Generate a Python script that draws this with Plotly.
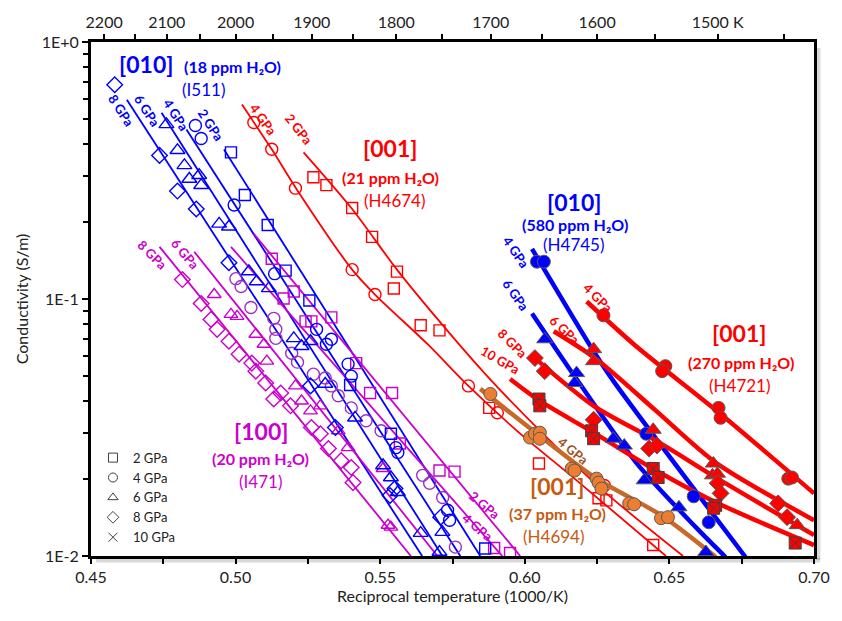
import plotly.graph_objects as go

# ------------------------------------------------------------------ data
# [010] 18 ppm H2O (I511) - open blue symbols, thin fits
i511_2gpa_x = [0.4984, 0.5032, 0.5111, 0.5173, 0.5255, 0.5396, 0.5537, 0.5863]
i511_2gpa_y = [0.372, 0.254, 0.194, 0.129, 0.0987, 0.0463, 0.0299, 0.0107]
i511_4gpa_x = [0.4861, 0.4881, 0.4995, 0.5135, 0.5280, 0.5314, 0.5331, 0.5389, 0.5400, 0.5554, 0.5561, 0.5733, 0.5740]
i511_4gpa_y = [0.473, 0.421, 0.232, 0.1255, 0.0762, 0.0667, 0.0697, 0.0558, 0.0501, 0.0264, 0.0253, 0.01507, 0.01378]
i511_6gpa_x = [0.4761, 0.4799, 0.4823, 0.4840, 0.4874, 0.4881, 0.4943, 0.4977, 0.5046, 0.5073, 0.5115, 0.5201,
               0.5228, 0.5259, 0.5310, 0.5413, 0.5510, 0.5537, 0.5561, 0.5640, 0.5705, 0.5715]
i511_6gpa_y = [0.478, 0.379, 0.331, 0.293, 0.303, 0.277, 0.196, 0.191, 0.128, 0.117, 0.110, 0.0703,
               0.0655, 0.0685, 0.0467, 0.0345, 0.0225, 0.0202, 0.0177, 0.01227, 0.01036, 0.01239]
i511_8gpa_x = [0.4582, 0.4737, 0.4799, 0.4864, 0.4977, 0.5259, 0.5345, 0.5534, 0.5551, 0.5709]
i511_8gpa_y = [0.682, 0.362, 0.263, 0.224, 0.1384, 0.0459, 0.0316, 0.0172, 0.0183, 0.01416]
i511_fit_2_x, i511_fit_2_y = [0.4960, 0.5846], [0.382, 0.0100]
i511_fit_4_x, i511_fit_4_y = [0.4830, 0.5777], [0.457, 0.0100]
i511_fit_6_x, i511_fit_6_y = [0.4744, 0.5715], [0.531, 0.0100]
i511_fit_8_x, i511_fit_8_y = [0.4624, 0.5645], [0.596, 0.0100]

# [100] 20 ppm H2O (I471) - open magenta symbols
i471_2gpa_x = [0.5125, 0.5166, 0.5201, 0.5242, 0.5262, 0.5331, 0.5417, 0.5465, 0.5541, 0.5568, 0.5705, 0.5757, 0.5894, 0.5949]
i471_2gpa_y = [0.1435, 0.1005, 0.1069, 0.0818, 0.0818, 0.0848, 0.0563, 0.0431, 0.0431, 0.0274, 0.0215, 0.0213, 0.01074, 0.01027]
i471_4gpa_x = [0.5001, 0.5019, 0.5053, 0.5132, 0.5139, 0.5139, 0.5194, 0.5214, 0.5269, 0.5310, 0.5331, 0.5355,
               0.5400, 0.5451, 0.5503, 0.5647, 0.5671, 0.5716, 0.5760]
i471_4gpa_y = [0.1200, 0.1118, 0.0927, 0.0841, 0.0762, 0.0703, 0.0615, 0.0568, 0.0510, 0.0493, 0.0459, 0.0420,
               0.0377, 0.0336, 0.0307, 0.0206, 0.0192, 0.0169, 0.01083]
i471_6gpa_x = [0.4926, 0.4984, 0.5005, 0.5070, 0.5098, 0.5108, 0.5207, 0.5228, 0.5259, 0.5293, 0.5355, 0.5389, 0.5510, 0.5527, 0.5537]
i471_6gpa_y = [0.1041, 0.0871, 0.0856, 0.0729, 0.0667, 0.0573, 0.0459, 0.0401, 0.0367, 0.0384, 0.0307, 0.0264, 0.0219, 0.01318, 0.01295]
i471_8gpa_x = [0.4816, 0.4881, 0.4915, 0.4936, 0.4977, 0.5012, 0.5056, 0.5070, 0.5104, 0.5132, 0.5156, 0.5190,
               0.5262, 0.5293, 0.5321, 0.5365, 0.5400, 0.5406]
i471_8gpa_y = [0.1190, 0.0961, 0.0833, 0.0762, 0.0685, 0.0610, 0.0563, 0.0524, 0.0471, 0.0408, 0.0431, 0.0384,
               0.0316, 0.0299, 0.0262, 0.0235, 0.0221, 0.0193]
i471_fit_2_x, i471_fit_2_y = [0.5063, 0.5984], [0.1792, 0.0100]
i471_fit_4_x, i471_fit_4_y = [0.4984, 0.5922], [0.1596, 0.0100]
i471_fit_6_x, i471_fit_6_y = [0.4857, 0.5698], [0.1527, 0.0100]
i471_fit_8_x, i471_fit_8_y = [0.4737, 0.5606], [0.1596, 0.0100]

# [001] 21 ppm H2O (H4674) - open red symbols
h4674_2gpa_x = [0.5269, 0.5314, 0.5403, 0.5472, 0.5558, 0.5547, 0.5640, 0.5705, 0.5877, 0.6049, 0.6255, 0.6282, 0.6444]
h4674_2gpa_y = [0.2978, 0.2773, 0.2259, 0.1745, 0.1278, 0.1098, 0.0790, 0.0755, 0.0377, 0.0229, 0.01677, 0.01646, 0.01103]
h4674_4gpa_x = [0.5063, 0.5125, 0.5207, 0.5403, 0.5482, 0.5805, 0.5905, 0.6275]
h4674_4gpa_y = [0.486, 0.3823, 0.270, 0.1301, 0.1041, 0.0459, 0.0361, 0.0188]
h4674_fit_2_x = [0.5235, 0.5403, 0.5558, 0.5705, 0.5870, 0.6059, 0.6282, 0.6547]
h4674_fit_2_y = [0.3721, 0.2239, 0.1301, 0.0818, 0.0501, 0.0302, 0.01753, 0.0100]
h4674_fit_4_x = [0.5022, 0.5125, 0.5211, 0.5403, 0.5482, 0.5664, 0.5805, 0.5973, 0.6179, 0.6488]
h4674_fit_4_y = [0.5706, 0.3823, 0.2676, 0.1301, 0.1041, 0.0667, 0.0459, 0.0307, 0.0197, 0.0100]

# [001] 37 ppm H2O (H4694) - filled orange circles, 4 GPa
h4694_4gpa_x = [0.5881, 0.6018, 0.6035, 0.6052, 0.6052, 0.6162, 0.6172, 0.6248, 0.6255, 0.6265, 0.6361, 0.6378, 0.6471, 0.6495]
h4694_4gpa_y = [0.0427, 0.0289, 0.0299, 0.0302, 0.0286, 0.0219, 0.0215, 0.0200, 0.0193, 0.0183, 0.01603, 0.01589, 0.01403, 0.01416]
h4694_fit_x = [0.5846, 0.6042, 0.6248, 0.6471, 0.6660]
h4694_fit_y = [0.0447, 0.0299, 0.0200, 0.01441, 0.00991]

# [010] 580 ppm H2O (H4745) - filled blue symbols
h4745_4gpa_x = [0.6042, 0.6066, 0.6420, 0.6584, 0.6636]
h4745_4gpa_y = [0.1397, 0.1397, 0.0299, 0.01707, 0.01353]
h4745_6gpa_x = [0.6069, 0.6179, 0.6172, 0.6306, 0.6344, 0.6413, 0.6533, 0.6626]
h4745_6gpa_y = [0.0697, 0.0515, 0.0471, 0.0286, 0.0269, 0.0197, 0.01547, 0.01036]
h4745_fit_4_x = [0.6025, 0.6238, 0.6306, 0.6763]
h4745_fit_4_y = [0.1568, 0.0626, 0.0480, 0.00991]
h4745_fit_6_x = [0.6025, 0.6179, 0.6385, 0.6591, 0.6694]
h4745_fit_6_y = [0.0879, 0.0488, 0.0231, 0.01295, 0.00991]

# [001] 270 ppm H2O (H4721) - filled red symbols
h4721_4gpa_x = [0.6272, 0.6486, 0.6475, 0.6670, 0.6677, 0.6911, 0.6924]
h4721_4gpa_y = [0.0864, 0.0548, 0.0524, 0.0377, 0.0345, 0.0200, 0.0202]
h4721_6gpa_x = [0.6238, 0.6238, 0.6444, 0.6652, 0.6649, 0.6666, 0.6942]
h4721_6gpa_y = [0.0638, 0.0573, 0.0310, 0.0229, 0.0206, 0.0209, 0.01318]
h4721_8gpa_x = [0.6035, 0.6069, 0.6238, 0.6430, 0.6457, 0.6667, 0.6677, 0.6876, 0.6907]
h4721_8gpa_y = [0.0589, 0.0524, 0.0339, 0.0262, 0.0269, 0.0192, 0.01753, 0.01603, 0.01416]
h4721_10gpa_x = [0.6049, 0.6052, 0.6231, 0.6238, 0.6444, 0.6461, 0.6660, 0.6653, 0.6935]
h4721_10gpa_y = [0.0408, 0.0384, 0.0307, 0.0286, 0.0219, 0.0202, 0.01575, 0.01534, 0.01123]
h4721_fit_4_x = [0.6214, 0.6385, 0.6677, 0.7000]
h4721_fit_4_y = [0.0978, 0.0655, 0.0357, 0.01753]
h4721_fit_6_x = [0.6100, 0.6248, 0.6454, 0.6660, 0.7000]
h4721_fit_6_y = [0.0749, 0.0583, 0.0367, 0.0231, 0.01378]
h4721_fit_8_x = [0.6035, 0.6238, 0.6454, 0.6667, 0.7000]
h4721_fit_8_y = [0.0589, 0.0384, 0.0281, 0.0200, 0.01206]
h4721_fit_10_x = [0.5949, 0.6052, 0.6238, 0.6454, 0.6660, 0.7000]
h4721_fit_10_y = [0.0488, 0.0401, 0.0302, 0.0215, 0.01618, 0.01103]

# axes
x_ticks = [0.45, 0.50, 0.55, 0.60, 0.65, 0.70]
x_ticktext = ["0.45", "0.50", "0.55", "0.60", "0.65", "0.70"]
y_ticks = [1.0, 0.1, 0.01]
y_ticktext = ["1E+0", "1E-1", "1E-2"]
top_temps = [2200, 2100, 2000, 1900, 1800, 1700, 1600, 1500]
top_labels = ["2200", "2100", "2000", "1900", "1800", "1700", "1600", "1500 K"]
top_minor_temps = [2150, 2050, 1950, 1850, 1750, 1650, 1550, 1450]
legend_names = ["2 GPa", "4 GPa", "6 GPa", "8 GPa", "10 GPa"]
legend_symbols = ["square-open", "circle-open", "triangle-up-open", "diamond-open", "x-thin-open"]

# ------------------------------------------------------------------ style
BLUE = "#0000FF"
RED = "#FF0000"
MAG = "#CC00CC"
PURP = "#9B30C8"
ORL = "#C8692A"
ORF = "#ED7D31"
ORT = "#C55A11"
EDGE = "#595959"
FONT = "Lato, Open Sans, sans-serif"

L, R, T, B = 91, 23, 39, 65
W, H = 842, 621
PW, PH = W - L - R, H - T - B

fig = go.Figure()


def fit(x, y, color, width, spline=False):
    fig.add_trace(go.Scatter(x=x, y=y, mode="lines", showlegend=False, hoverinfo="skip",
                             line=dict(color=color, width=width, shape="spline" if spline else "linear",
                                       smoothing=0.8)))


def pts(x, y, symbol, color, size=11, filled=False, edge=None):
    if filled:
        m = dict(symbol=symbol, size=size, color=color, line=dict(color=edge or EDGE, width=1))
    else:
        m = dict(symbol=symbol + "-open", size=size, color=color, line=dict(color=color, width=1.4))
    fig.add_trace(go.Scatter(x=x, y=y, mode="markers", showlegend=False, marker=m))


# thin fits
for fx, fy in [(i511_fit_2_x, i511_fit_2_y), (i511_fit_4_x, i511_fit_4_y),
               (i511_fit_6_x, i511_fit_6_y), (i511_fit_8_x, i511_fit_8_y)]:
    fit(fx, fy, BLUE, 1.8)
for fx, fy in [(i471_fit_2_x, i471_fit_2_y), (i471_fit_4_x, i471_fit_4_y),
               (i471_fit_6_x, i471_fit_6_y), (i471_fit_8_x, i471_fit_8_y)]:
    fit(fx, fy, MAG, 1.8)
fit(h4674_fit_2_x, h4674_fit_2_y, RED, 1.8, True)
fit(h4674_fit_4_x, h4674_fit_4_y, RED, 1.8, True)

# open markers
pts(i471_8gpa_x, i471_8gpa_y, "diamond", MAG, 12)
pts(i471_6gpa_x, i471_6gpa_y, "triangle-up", MAG, 12)
pts(i471_4gpa_x, i471_4gpa_y, "circle", PURP, 12)
pts(i471_2gpa_x, i471_2gpa_y, "square", MAG, 11)
pts(i511_8gpa_x, i511_8gpa_y, "diamond", BLUE, 12)
pts(i511_6gpa_x, i511_6gpa_y, "triangle-up", BLUE, 13)
pts(i511_4gpa_x, i511_4gpa_y, "circle", BLUE, 12)
pts(i511_2gpa_x, i511_2gpa_y, "square", BLUE, 11)
pts(h4674_4gpa_x, h4674_4gpa_y, "circle", RED, 12)
pts(h4674_2gpa_x, h4674_2gpa_y, "square", RED, 11)

# thick fits
fit(h4694_fit_x, h4694_fit_y, ORL, 4.5, True)
fit(h4745_fit_4_x, h4745_fit_4_y, BLUE, 4.5, True)
fit(h4745_fit_6_x, h4745_fit_6_y, BLUE, 4.5, True)
fit(h4721_fit_4_x, h4721_fit_4_y, RED, 4.5, True)
fit(h4721_fit_6_x, h4721_fit_6_y, RED, 4.5, True)
fit(h4721_fit_8_x, h4721_fit_8_y, RED, 4.5, True)
fit(h4721_fit_10_x, h4721_fit_10_y, RED, 4.5, True)

# filled markers
pts(h4694_4gpa_x, h4694_4gpa_y, "circle", ORF, 13, True)
pts(h4745_4gpa_x, h4745_4gpa_y, "circle", BLUE, 13, True)
pts(h4745_6gpa_x, h4745_6gpa_y, "triangle-up", BLUE, 14, True)
pts(h4721_4gpa_x, h4721_4gpa_y, "circle", RED, 13, True)
pts(h4721_6gpa_x, h4721_6gpa_y, "triangle-up", RED, 14, True)
pts(h4721_8gpa_x, h4721_8gpa_y, "diamond", RED, 13, True)
pts(h4721_10gpa_x, h4721_10gpa_y, "square-x", RED, 12, True, "#404040")

# legend entries (symbols only)
for name, sym in zip(legend_names, legend_symbols):
    fig.add_trace(go.Scatter(x=[None], y=[None], mode="markers", name=name,
                             marker=dict(symbol=sym, size=9, color="#404040",
                                         line=dict(color="#404040", width=1))))

# dummy trace for the top temperature axis
fig.add_trace(go.Scatter(x=[None], y=[None], xaxis="x2", showlegend=False, hoverinfo="skip"))


def P(px, py):
    return (px - L) / PW, (H - B - py) / PH


anns = []


def ann(text, px, py, color, size=16, angle=0):
    x, y = P(px, py)
    anns.append(dict(text=text, x=x, y=y, xref="paper", yref="paper", showarrow=False,
                     xanchor="center", yanchor="middle", textangle=angle,
                     font=dict(family=FONT, size=size, color=color)))


GS = 13  # size of the rotated pressure labels
# [010] 18 ppm
ann("<b>[010]</b>", 146, 61, BLUE, 23)
ann("<b>(18 ppm H₂O)</b>", 233, 64, BLUE, 16)
ann("(I511)", 204, 87, BLUE, 17)
for t, px, py in [("8 GPa", 122, 108), ("6 GPa", 148, 108), ("4 GPa", 177, 112), ("2 GPa", 212, 122)]:
    ann("<b>%s</b>" % t, px, py, BLUE, GS, 57)
# [001] 21 ppm
ann("<b>4 GPa</b>", 265, 117, RED, GS, 54)
ann("<b>2 GPa</b>", 300, 127, RED, GS, 52)
ann("<b>[001]</b>", 392, 146, RED, 23)
ann("<b>(21 ppm H₂O)</b>", 393, 175, RED, 16)
ann("(H4674)", 397, 198, RED, 17)
# [010] 580 ppm
ann("<b>[010]</b>", 577, 200, BLUE, 23)
ann("<b>(580 ppm H₂O)</b>", 578, 223, BLUE, 16)
ann("(H4745)", 577, 243, BLUE, 17)
ann("<b>4 GPa</b>", 519, 250, BLUE, GS, 55)
ann("<b>6 GPa</b>", 519, 293, BLUE, GS, 55)
# [001] 270 ppm
ann("<b>4 GPa</b>", 602, 296, RED, GS, 45)
ann("<b>6 GPa</b>", 568, 329, RED, GS, 43)
ann("<b>8 GPa</b>", 515, 342, RED, GS, 45)
ann("<b>10 GPa</b>", 503, 359, RED, GS, 30)
ann("<b>[001]</b>", 743, 332, RED, 23)
ann("<b>(270 ppm H₂O)</b>", 745, 361, RED, 16)
ann("(H4721)", 744, 385, RED, 17)
# [100] 20 ppm
ann("<b>8 GPa</b>", 153, 253, MAG, GS, 45)
ann("<b>6 GPa</b>", 186, 252, MAG, GS, 50)
ann("<b>2 GPa</b>", 487, 505, MAG, GS, 40)
ann("<b>4 GPa</b>", 480, 527, MAG, GS, 40)
ann("<b>[100]</b>", 262, 430, MAG, 23)
ann("<b>(20 ppm H₂O)</b>", 262, 458, MAG, 16)
ann("(I471)", 262, 481, MAG, 17)
# [001] 37 ppm
ann("<b>4 GPa</b>", 577, 450, "#A0521E", GS, 40)
ann("<b>[001]</b>", 560, 486, ORT, 23)
ann("<b>(37 ppm H₂O)</b>", 561, 513, ORT, 16)
ann("(H4694)", 557, 536, ORT, 17)

# soft shadow of the frame (right and bottom)
shapes = [
    dict(type="line", xref="paper", yref="paper", x0=P(823, 0)[0], x1=P(823, 0)[0], y0=P(0, 45)[1], y1=P(0, 560)[1],
         line=dict(color="rgba(0,0,0,0.15)", width=5)),
    dict(type="line", xref="paper", yref="paper", x0=P(96, 0)[0], x1=P(825, 0)[0], y0=P(0, 560)[1], y1=P(0, 560)[1],
         line=dict(color="rgba(0,0,0,0.15)", width=5)),
]

fig.update_layout(
    width=W, height=H, margin=dict(l=L, r=R, t=T, b=B, pad=0),
    paper_bgcolor="white", plot_bgcolor="white",
    font=dict(family=FONT, size=16, color="#222222"),
    annotations=anns, shapes=shapes,
    showlegend=True,
    legend=dict(x=P(93, 0)[0], y=P(0, 442)[1], xanchor="left", yanchor="top",
                bgcolor="rgba(0,0,0,0)", font=dict(size=13, color="#222222", family=FONT),
                itemwidth=30, tracegroupgap=0),
    xaxis=dict(range=[0.45, 0.70], tickvals=x_ticks, ticktext=x_ticktext, showgrid=False, zeroline=False,
               showline=True, linecolor="black", linewidth=3, ticks="outside", ticklen=5, tickwidth=2,
               tickcolor="black", minor=dict(dtick=0.025, tick0=0.45, ticks="outside", ticklen=5, tickwidth=2,
                                             tickcolor="black", showgrid=False),
               title=dict(text="Reciprocal temperature (1000/K)", font=dict(size=16), standoff=6)),
    xaxis2=dict(range=[0.45, 0.70], overlaying="x", side="top", anchor="y",
                tickvals=[1000.0 / t for t in top_temps], ticktext=top_labels,
                minor=dict(tickvals=[1000.0 / t for t in top_minor_temps], ticks="outside", ticklen=5,
                           tickwidth=2, tickcolor="black", showgrid=False),
                showgrid=False, zeroline=False, showline=True, linecolor="black", linewidth=3,
                ticks="outside", ticklen=5, tickwidth=2, tickcolor="black"),
    yaxis=dict(type="log", range=[-2, 0], tickvals=y_ticks, ticktext=y_ticktext, showgrid=False, zeroline=False,
               showline=True, linecolor="black", linewidth=3, mirror=True, ticks="outside", ticklen=6,
               tickwidth=2, tickcolor="black",
               minor=dict(tickvals=[m * d for d in (0.01, 0.1) for m in range(2, 10)], ticks="outside",
                          ticklen=5, tickwidth=2, tickcolor="black", showgrid=False),
               title=dict(text="Conductivity (S/m)", font=dict(size=16), standoff=10)),
)

fig.write_html("out.html")
